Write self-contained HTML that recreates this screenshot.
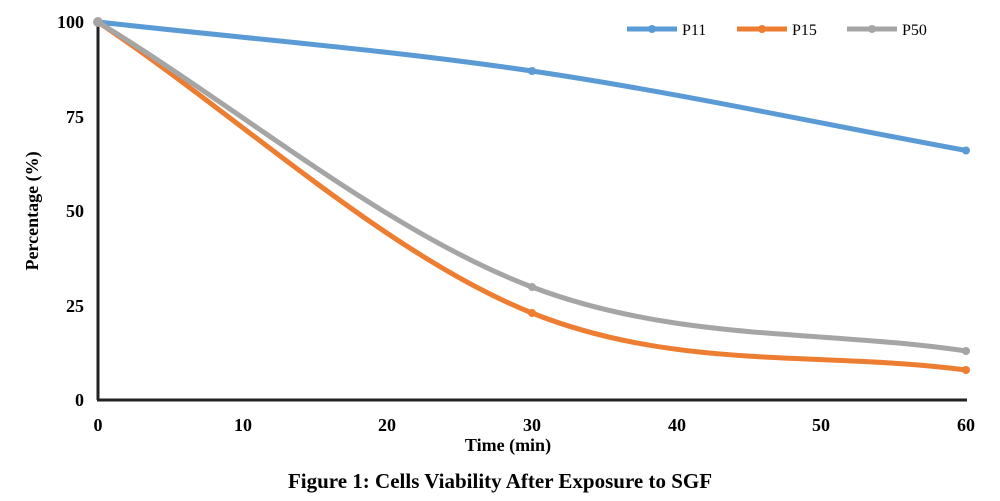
<!DOCTYPE html>
<html><head><style>body{margin:0;background:#fff}</style></head><body>
<svg width="1000" height="496" xmlns="http://www.w3.org/2000/svg" font-family="Liberation Serif, serif" font-weight="bold">
<rect width="1000" height="496" fill="#fff"/>
<line x1="98" y1="22" x2="98" y2="400" stroke="#222" stroke-width="3"/>
<line x1="97" y1="400" x2="967" y2="400" stroke="#222" stroke-width="3"/>
<g font-size="18" text-anchor="end">
<text x="84" y="28">100</text><text x="84" y="123">75</text><text x="84" y="217">50</text><text x="84" y="312">25</text><text x="84" y="406">0</text>
</g>
<g font-size="18" text-anchor="middle">
<text x="98" y="431">0</text><text x="243" y="431">10</text><text x="387" y="431">20</text><text x="532" y="431">30</text><text x="677" y="431">40</text><text x="821" y="431">50</text><text x="966" y="431">60</text>
<text x="508" y="451">Time (min)</text>
<text x="500" y="488" font-size="21">Figure 1: Cells Viability After Exposure to SGF</text>
</g>
<text transform="translate(38,211) rotate(-90)" font-size="18" text-anchor="middle">Percentage (%)</text>
<g fill="none" stroke-width="5" stroke-linecap="round">
<path d="M98,22 C242.7,38.3 387.3,49.6 532,71 C676.7,92.4 821.3,124 966,150.5" stroke="#5b9bd5"/>
<path d="M98,22 C242.7,119 387.3,255 532,313 C676.7,371 821.3,351 966,370" stroke="#ed7d31"/>
<path d="M98,22 C242.7,110.3 387.3,232.2 532,287 C676.7,341.8 821.3,329.7 966,351" stroke="#a5a5a5"/>
</g>
<g>
<circle cx="532" cy="71" r="4" fill="#5b9bd5"/><circle cx="966" cy="150.5" r="4" fill="#5b9bd5"/>
<circle cx="532" cy="313" r="4" fill="#ed7d31"/><circle cx="966" cy="370" r="4" fill="#ed7d31"/>
<circle cx="532" cy="287" r="4" fill="#a5a5a5"/><circle cx="966" cy="351" r="4" fill="#a5a5a5"/>
<circle cx="98" cy="22" r="5" fill="#a5a5a5"/>
</g>
<g stroke-width="5">
<line x1="627" y1="29" x2="677" y2="29" stroke="#5b9bd5"/><circle cx="652" cy="29" r="4" fill="#5b9bd5"/>
<line x1="737" y1="29" x2="787" y2="29" stroke="#ed7d31"/><circle cx="762" cy="29" r="4" fill="#ed7d31"/>
<line x1="847" y1="29" x2="897" y2="29" stroke="#a5a5a5"/><circle cx="872" cy="29" r="4" fill="#a5a5a5"/>
</g>
<g font-size="16" font-weight="normal">
<text x="682" y="35">P11</text><text x="792" y="35">P15</text><text x="902" y="35">P50</text>
</g>
</svg>
</body></html>
